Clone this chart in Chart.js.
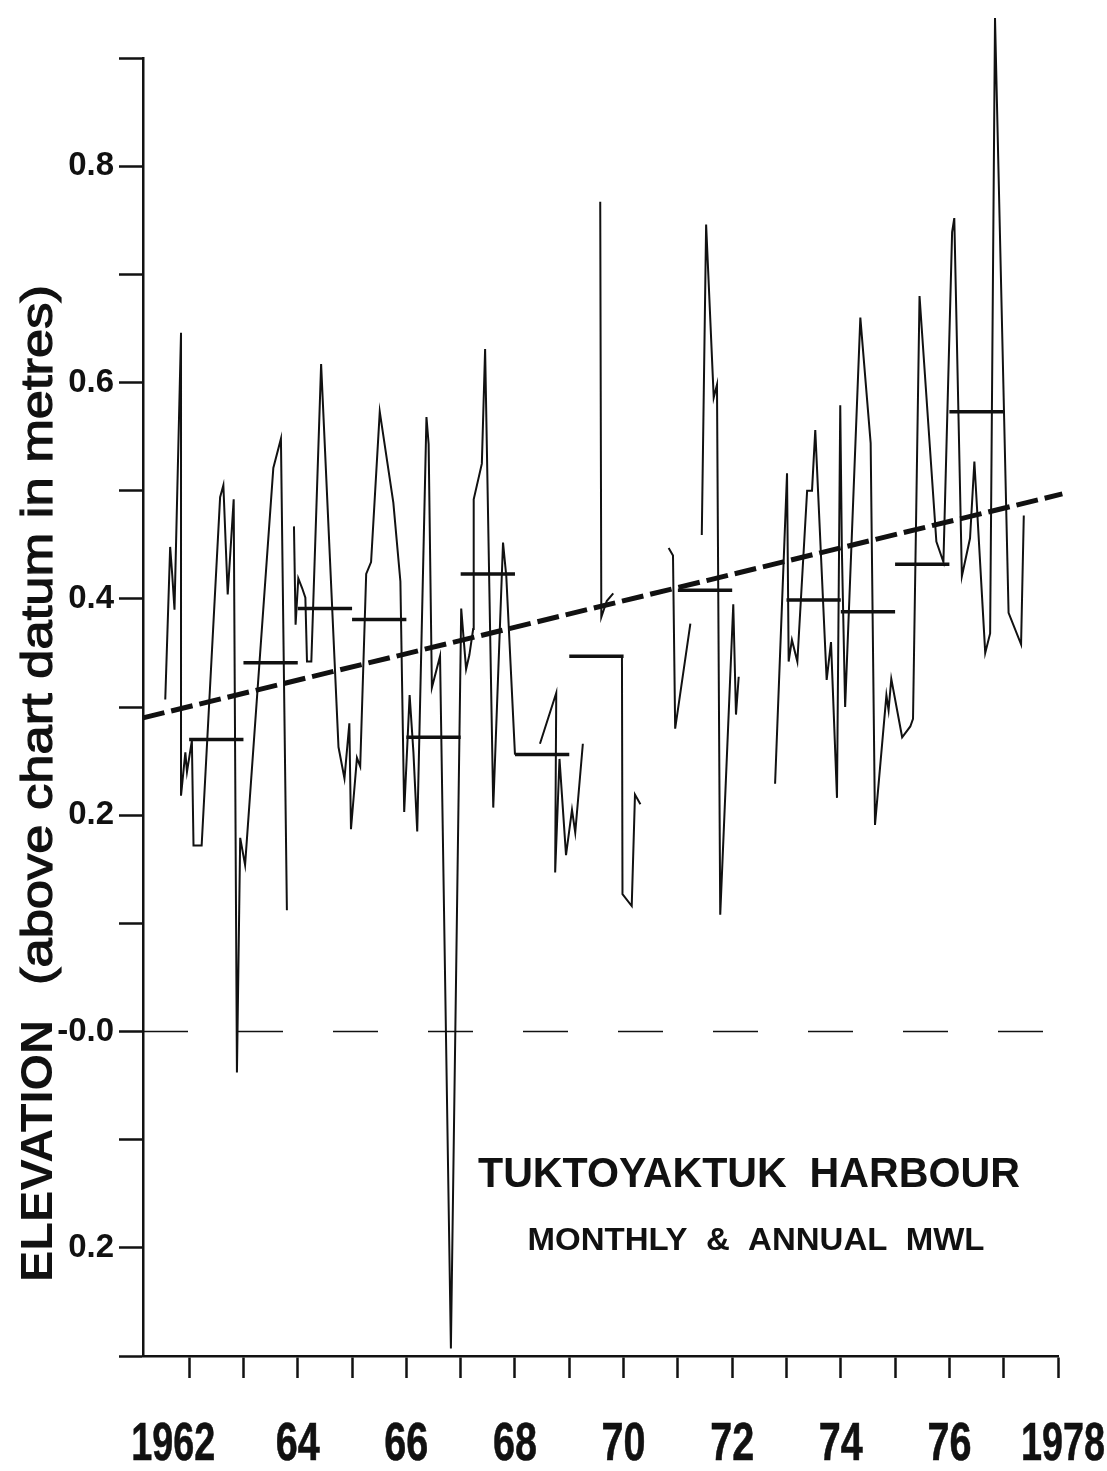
<!DOCTYPE html>
<html>
<head>
<meta charset="utf-8">
<script src="https://cdn.jsdelivr.net/npm/chart.js@4.4.0/dist/chart.umd.min.js"></script>
<style>
  html, body { margin: 0; padding: 0; background: #fff; }
  #wrap { width: 1107px; height: 1471px; }
</style>
</head>
<body>
<div id="wrap"><canvas id="mwlChart" width="1107" height="1471"></canvas></div>
<script>
// monthly mean water level (null = break in the record)
const monthX = [
    1961.56, 1961.65, 1961.69, 1961.73, 1961.85, 1961.85, 1961.93, 1961.96, 1962.05, 1962.08, 1962.23, 1962.57, 1962.63, 1962.71, 1962.82, 1962.88, 1962.94, 1963.03, 1963.55, 1963.69, 1963.80, null,
    1963.93, 1963.96, 1964.01, 1964.08, 1964.14, 1964.17, 1964.25, 1964.43, 1964.75, 1964.86, 1964.95, 1964.98, 1965.09, 1965.15, 1965.26, 1965.35, 1965.51, 1965.76, 1965.89,
    1965.96, 1966.06, 1966.13, 1966.20, 1966.37, 1966.41, 1966.47, 1966.62, 1966.82, 1967.01, 1967.10, 1967.16, 1967.23, 1967.24, 1967.39, 1967.45, 1967.60, 1967.78, 1967.84, 1968.00, null,
    1968.46, 1968.76, 1968.74, 1968.82, 1968.94, 1969.05, 1969.11, 1969.25, null,
    1969.57, 1969.59, 1969.69, 1969.81, null,
    1969.97, 1969.98, 1970.15, 1970.21, 1970.31, null,
    1970.83, 1970.91, 1970.95, 1971.23, null,
    1971.44, 1971.52, 1971.66, 1971.72, 1971.78, 1972.02, 1972.07, 1972.12, null,
    1972.79, 1973.01, 1973.04, 1973.10, 1973.20, 1973.38, 1973.47, 1973.53, 1973.74, 1973.82, 1973.93, 1973.99, 1974.02, 1974.08, 1974.36, 1974.55, 1974.63, 1974.84, 1974.88, 1974.93,
    1975.13, 1975.28, 1975.33, 1975.45, 1975.76, 1975.89, 1976.05, 1976.09, 1976.23, 1976.38, 1976.46, 1976.66, 1976.75, 1976.84, 1977.09, 1977.32, 1977.37
];
const monthY = [
    0.307, 0.448, 0.421, 0.390, 0.646, 0.218, 0.258, 0.240, 0.269, 0.172, 0.172, 0.494, 0.505, 0.404, 0.492, -0.038, 0.179, 0.154, 0.521, 0.548, 0.112, null,
    0.467, 0.376, 0.419, 0.410, 0.401, 0.342, 0.342, 0.617, 0.263, 0.234, 0.285, 0.187, 0.253, 0.245, 0.423, 0.434, 0.573, 0.489, 0.416,
    0.203, 0.311, 0.258, 0.185, 0.568, 0.543, 0.318, 0.347, -0.293, 0.391, 0.335, 0.348, 0.372, 0.492, 0.525, 0.631, 0.207, 0.452, 0.421, 0.256, null,
    0.266, 0.313, 0.147, 0.252, 0.163, 0.205, 0.184, 0.266, null,
    0.767, 0.383, 0.398, 0.405, null,
    0.347, 0.127, 0.116, 0.219, 0.210, null,
    0.447, 0.440, 0.280, 0.377, null,
    0.459, 0.746, 0.586, 0.598, 0.108, 0.395, 0.293, 0.328, null,
    0.229, 0.516, 0.342, 0.362, 0.342, 0.500, 0.500, 0.556, 0.325, 0.360, 0.216, 0.579, 0.445, 0.300, 0.660, 0.544, 0.191, 0.311, 0.297, 0.326,
    0.272, 0.282, 0.289, 0.680, 0.453, 0.434, 0.739, 0.752, 0.421, 0.456, 0.527, 0.350, 0.368, 0.937, 0.387, 0.358, 0.477
];

// annual means
const annualYears = [1962, 1963, 1964, 1965, 1966, 1967, 1968, 1969, 1971, 1973, 1974, 1975, 1976];
const annualMeans = [0.270, 0.341, 0.391, 0.381, 0.272, 0.423, 0.256, 0.347, 0.408, 0.399, 0.388, 0.432, 0.573];

// linear trend end points
const trendX = [1961.15, 1978.08];
const trendY = [0.290, 0.497];

// axis ticks
const xTickYears = [1962, 1963, 1964, 1965, 1966, 1967, 1968, 1969, 1970, 1971, 1972, 1973, 1974, 1975, 1976, 1977, 1978];
const xTickLabels = ['1962', '', '64', '', '66', '', '68', '', '70', '', '72', '', '74', '', '76', '', '1978'];
const yTickValues = [-0.3, -0.2, -0.1, 0.0, 0.1, 0.2, 0.3, 0.4, 0.5, 0.6, 0.7, 0.8, 0.9];

const X_MIN = 1961.15, X_MAX = 1978;
const INK = '#111';
const SANS = '"Liberation Sans", Arial, sans-serif';

// build line data, null entries become gaps
let lastX = monthX[0];
const monthlyData = monthX.map(function (x, i) {
    if (x === null) return { x: lastX, y: null };
    lastX = x;
    return { x: x, y: monthY[i] };
});

const annualData = [];
annualYears.forEach(function (yr, i) {
    annualData.push({ x: yr, y: annualMeans[i] });
    annualData.push({ x: yr + 1, y: annualMeans[i] });
    annualData.push({ x: yr + 1, y: null });
});

const trendData = trendX.map((x, i) => ({ x: x, y: trendY[i] }));
const zeroData = [{ x: X_MIN, y: 0 }, { x: X_MAX, y: 0 }];

// draw text squeezed/stretched to a given width
function fitText(ctx, text, x, y, font, width, align, stroke) {
    ctx.save();
    ctx.font = font;
    const w = ctx.measureText(text).width;
    ctx.translate(x, y);
    ctx.scale(width / w, 1);
    ctx.textAlign = align || 'left';
    ctx.textBaseline = 'alphabetic';
    ctx.fillText(text, 0, 0);
    if (stroke) {
        ctx.lineWidth = stroke;
        ctx.strokeStyle = ctx.fillStyle;
        ctx.strokeText(text, 0, 0);
    }
    ctx.restore();
}

const textPlugin = {
    id: 'textPlugin',
    afterDraw(chart) {
        const ctx = chart.ctx;
        const xs = chart.scales.x;
        ctx.save();
        ctx.fillStyle = INK;

        // condensed year labels under the x ticks
        xTickYears.forEach(function (yr, i) {
            const lbl = xTickLabels[i];
            if (!lbl) return;
            let px = xs.getPixelForValue(yr);
            if (yr === 1962) px -= 16;
            if (yr === 1978) px += 5;
            fitText(ctx, lbl, px, 1460, 'bold 54px ' + SANS, lbl.length === 4 ? 84 : 44, 'center', 0.6);
        });

        // rotated y axis title
        ctx.save();
        ctx.translate(52, 0);
        ctx.rotate(-Math.PI / 2);
        fitText(ctx, 'ELEVATION', -1282, 0, 'bold 44px ' + SANS, 262);
        fitText(ctx, '(above chart datum in metres)', -985, 0, '44px ' + SANS, 700, 'left', 1.2);
        ctx.restore();

        // caption inside plot
        fitText(ctx, 'TUKTOYAKTUK  HARBOUR', 749, 1187, 'bold 42px ' + SANS, 542, 'center');
        fitText(ctx, 'MONTHLY  &  ANNUAL  MWL', 756, 1250, 'bold 32px ' + SANS, 457, 'center');
        ctx.restore();
    }
};

const ctx = document.getElementById('mwlChart').getContext('2d');
new Chart(ctx, {
    type: 'line',
    data: {
        datasets: [
            {
                label: 'Monthly MWL',
                data: monthlyData,
                borderColor: INK,
                borderWidth: 2,
                pointRadius: 0,
                tension: 0,
                spanGaps: false,
                clip: false
            },
            {
                label: 'Annual MWL',
                data: annualData,
                borderColor: INK,
                borderWidth: 3.5,
                pointRadius: 0,
                spanGaps: false
            },
            {
                label: 'Trend',
                data: trendData,
                borderColor: INK,
                borderWidth: 5,
                borderDash: [22, 7],
                pointRadius: 0,
                clip: false
            },
            {
                label: 'Zero',
                data: zeroData,
                borderColor: INK,
                borderWidth: 1.5,
                borderDash: [45, 50],
                pointRadius: 0
            }
        ]
    },
    options: {
        responsive: false,
        devicePixelRatio: 1,
        animation: false,
        layout: { padding: { top: 58, right: 49, left: 0, bottom: 0 } },
        plugins: {
            legend: { display: false },
            tooltip: { enabled: false }
        },
        scales: {
            x: {
                type: 'linear',
                min: X_MIN,
                max: X_MAX,
                afterBuildTicks: s => { s.ticks = xTickYears.map(v => ({ value: v })); },
                afterFit: s => { s.height = 115; },
                ticks: {
                    autoSkip: false,
                    maxRotation: 0,
                    callback: () => ''   // labels drawn condensed by textPlugin
                },
                grid: { drawOnChartArea: false, tickLength: 22, tickWidth: 2.5, tickColor: INK },
                border: { color: INK, width: 2.5 }
            },
            y: {
                min: -0.3,
                max: 0.9,
                afterBuildTicks: s => { s.ticks = yTickValues.map(v => ({ value: v })); },
                afterFit: s => { s.width = 143; },
                ticks: {
                    padding: 5,
                    color: INK,
                    font: { family: SANS, size: 33, weight: 'bold' },
                    callback: function (v) {
                        const t = Math.round(v * 10);
                        if (t % 2 !== 0) return '';
                        if (t === 0) return '-0.0';
                        return (Math.abs(t) / 10).toFixed(1);
                    }
                },
                grid: { drawOnChartArea: false, tickLength: 24, tickWidth: 2.5, tickColor: INK },
                border: { color: INK, width: 2.5 }
            }
        }
    },
    plugins: [textPlugin]
});
</script>
</body>
</html>
